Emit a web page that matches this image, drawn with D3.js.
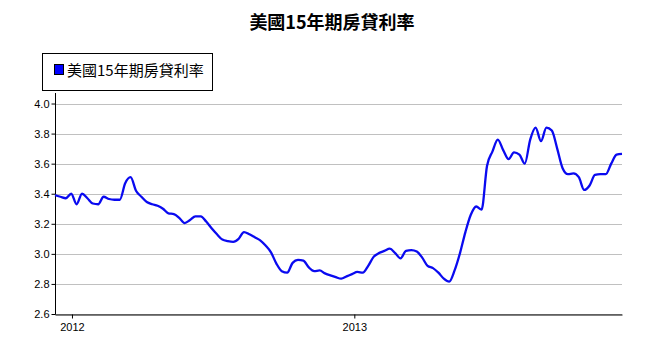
<!DOCTYPE html>
<html><head><meta charset="utf-8">
<script src="https://cdn.jsdelivr.net/npm/d3@7"></script>
<style>
body{margin:0;background:#fff;}
text{font-family:"Liberation Sans",Arial,sans-serif;}
.cjk{font-family:"Noto Sans CJK TC","Noto Sans CJK SC",sans-serif;}
</style></head>
<body><svg id="c" width="645" height="354"></svg>
<script>
const title = "美國15年期房貸利率";
const seriesName = "美國15年期房貸利率";
const startDate = "2011-12-10";
const rates = [3.39,3.38,3.37,3.40,3.33,3.40,3.37,3.335,3.33,3.38,
3.365,3.36,3.36,3.47,3.51,3.42,3.38,3.345,3.33,3.32,
3.30,3.27,3.265,3.24,3.205,3.225,3.25,3.25,3.215,3.17,
3.13,3.095,3.085,3.08,3.10,3.145,3.13,3.11,3.09,3.055,
3.01,2.935,2.885,2.875,2.94,2.96,2.955,2.91,2.885,2.89,
2.87,2.857,2.845,2.835,2.85,2.865,2.88,2.875,2.92,2.98,
3.005,3.02,3.035,3.005,2.97,3.02,3.025,3.015,2.975,2.92,
2.905,2.875,2.835,2.815,2.89,3.005,3.145,3.26,3.315,3.295,
3.585,3.68,3.76,3.69,3.63,3.675,3.66,3.60,3.76,3.84,
3.75,3.84,3.82,3.70,3.57,3.53,3.535,3.51,3.425,3.455,
3.525,3.53,3.53,3.60,3.66,3.665];
const yTicks = [2.6,2.8,3.0,3.2,3.4,3.6,3.8,4.0];
const xTickLabels = ["2012","2013"];

const t0 = d3.timeParse("%Y-%m-%d")(startDate);
const data = rates.map((v,i)=>({date:d3.timeDay.offset(t0,7*i), value:v}));

const svg = d3.select("#c");
const x = d3.scaleTime().domain(d3.extent(data,d=>d.date)).range([55,622]);
const y = d3.scaleLinear().domain([2.6,4.07]).range([314,93]);

// title
svg.append("text").attr("class","cjk").attr("x",332).attr("y",29)
  .attr("text-anchor","middle").attr("font-size",18).attr("font-weight","bold")
  .attr("fill","#000").text(title);

// legend
const lg = svg.append("g");
lg.append("rect").attr("x",42.5).attr("y",53.5).attr("width",170).attr("height",37)
  .attr("fill","#fff").attr("stroke","#000").attr("stroke-width",1);
lg.append("rect").attr("x",54.5).attr("y",64.5).attr("width",9).attr("height",10)
  .attr("fill","#0000ff").attr("stroke","#000").attr("stroke-width",1);
lg.append("text").attr("class","cjk").attr("x",67).attr("y",76)
  .attr("font-size",15).attr("fill","#000").text(seriesName);

// grid
svg.append("g").selectAll("line").data(yTicks).join("line")
  .attr("x1",55).attr("x2",622)
  .attr("y1",d=>Math.round(y(d))+0.5).attr("y2",d=>Math.round(y(d))+0.5)
  .attr("stroke","#c0c0c0").attr("stroke-width",1);

// y axis
const yAxis = svg.append("g").attr("transform","translate(55.5,0)")
  .call(d3.axisLeft(y).tickValues(yTicks).tickFormat(d3.format(".1f")).tickSizeOuter(0).tickSize(4));
yAxis.select(".domain").attr("d","M0,"+y.range()[1]+"V"+(y.range()[0]+0.5));
yAxis.selectAll("text").attr("font-size",11).attr("fill","#000").attr("x",-6)
  .attr("font-family","Liberation Sans, Arial, sans-serif");
yAxis.selectAll(".tick line").attr("stroke","#000");

// x axis
const xTicks = xTickLabels.map(s=>d3.timeParse("%Y")(s));
const xAxis = svg.append("g").attr("transform","translate(0,314.5)")
  .call(d3.axisBottom(x).tickValues(xTicks).tickFormat(d3.timeFormat("%Y")).tickSize(4).tickSizeOuter(0));
xAxis.select(".domain").attr("stroke","#000");
xAxis.selectAll("text").attr("font-size",11).attr("fill","#000").attr("dy","0.9em")
  .attr("font-family","Liberation Sans, Arial, sans-serif");

// line
svg.append("path").datum(data)
  .attr("fill","none").attr("stroke","#0a0af0").attr("stroke-width",2.3)
  .attr("stroke-linejoin","round")
  .attr("d",d3.line().x(d=>x(d.date)).y(d=>y(d.value)).curve(d3.curveMonotoneX));
</script></body></html>
